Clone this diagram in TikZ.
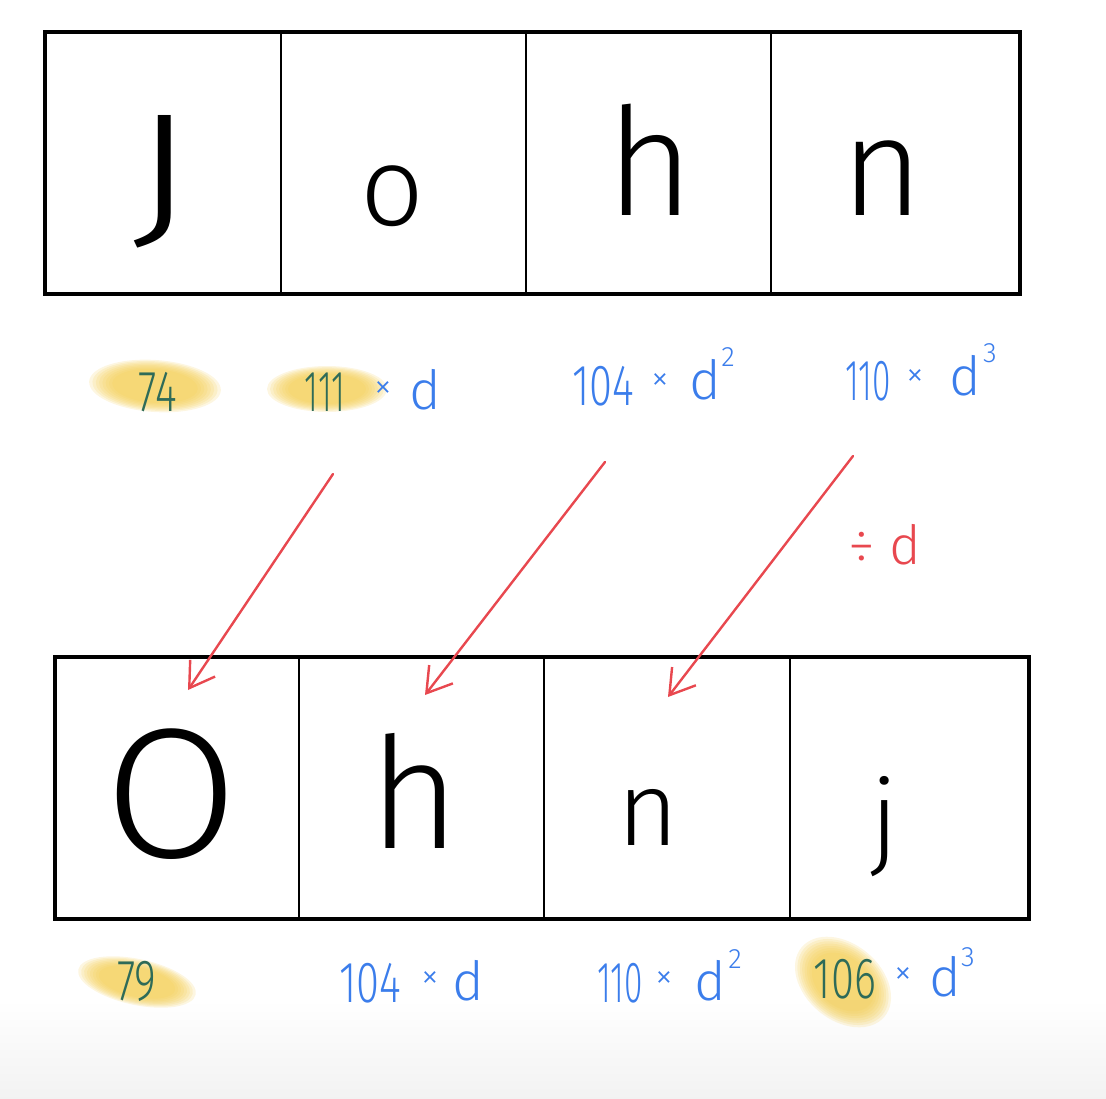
\documentclass[tikz,border=0pt]{standalone}
\usepackage{fontspec}
\setmainfont{Noto Sans}
\newfontfamily\thinfont{Fira Sans Light}
\usetikzlibrary{arrows.meta,shapes.geometric}
\definecolor{penblue}{HTML}{3B7DEB}
\definecolor{penred}{HTML}{E8484F}
\definecolor{hiyel}{HTML}{F3CC4E}
\definecolor{hitext}{HTML}{2E6B58}
\newcommand{\fsz}[1]{\fontsize{#1}{#1}\selectfont}
\tikzset{
  cell/.style={draw=black, line width=2pt, minimum height=260pt, inner sep=0pt, anchor=north west},
  frame/.style={draw=black, line width=4.5pt},
  letter/.style={anchor=base, inner sep=0pt, text=black},
  lab/.style={anchor=base, inner sep=0pt, text=penblue, font=\thinfont\fsz{58}, xscale=0.72},
  labhi/.style={lab, text=hitext},
  times/.style={anchor=center, inner sep=0pt, text=penblue, font=\thinfont\fsz{36}},
  dd/.style={anchor=base, inner sep=0pt, text=penblue, font=\thinfont\fsz{54}},
  sup/.style={anchor=base, inner sep=0pt, text=penblue, font=\thinfont\fsz{28}},
  hl/.style={fill=hiyel, opacity=0.17},
  redarrow/.style={draw=penred, line width=2.4pt, line cap=round, -{Straight Barb[length=24pt,width=30pt,line width=2.4pt]}},
}
\begin{document}
\begin{tikzpicture}[x=1pt,y=-1pt]
\useasboundingbox (0,0) rectangle (1106,1098);
\shade[top color=white, bottom color=black!5] (0,1000) rectangle (1106,1098);

% highlights
\foreach \s in {1.0,0.95,0.9,0.85,0.8,0.75,0.7,0.65}{
  \fill[hl, rotate around={-4:(155,386)}] (155,386) ellipse ({66*\s} and {26*\s});
  \fill[hl] (327,389) ellipse ({60*\s} and {23*\s});
  \fill[hl, rotate around={-12:(137,982)}] (137,982) ellipse ({60*\s} and {23*\s});
  \fill[hl, rotate around={-40:(843,982)}] (843,982) ellipse ({54*\s} and {38*\s});
}

% top row cells
\node[cell, minimum width=235pt] (t1) at (45,32) {};
\node[cell, minimum width=245pt] (t2) at (280,32) {};
\node[cell, minimum width=245pt] (t3) at (525,32) {};
\node[cell, minimum width=248pt] (t4) at (770,32) {};
\draw[frame] (t1.north west) rectangle (t4.south east);

% bottom row cells
\node[cell, minimum width=243pt] (b1) at (55,657) {};
\node[cell, minimum width=245pt] (b2) at (298,657) {};
\node[cell, minimum width=246pt] (b3) at (543,657) {};
\node[cell, minimum width=238pt] (b4) at (789,657) {};
\draw[frame] (b1.north west) rectangle (b4.south east);

% letters top
\node[letter, font=\thinfont\fsz{165}, xscale=1.3] (lJ) at (163,228) {J};
\node[letter, font=\thinfont\fsz{112}] (lo) at (392,225) {o};
\node[letter, font=\thinfont\fsz{150}] (lh) at (650,215) {h};
\node[letter, font=\thinfont\fsz{140}] (ln) at (882,215) {n};
% letters bottom
\node[letter, font=\thinfont\fsz{185}, xscale=1.05] (lO) at (172,857) {O};
\node[letter, font=\thinfont\fsz{155}] (lh2) at (415,848) {h};
\node[letter, font=\thinfont\fsz{105}] (ln2) at (648,845) {n};
\node[letter, font=\thinfont\fsz{105}] (lj) at (885,855) {j};

% top labels
\node[labhi] (n74) at (158,411) {74};
\node[labhi, xscale=0.8] (n111) at (325,411) {111};
\node[times] (x1) at (383,390) {×};
\node[dd] (d1) at (425,409) {d};

\node[lab] (n104) at (603,405) {104};
\node[times] (x2) at (660,382) {×};
\node[dd] (d2) at (705,399) {d};
\node[sup] (s2) at (728,366) {2};

\node[lab, xscale=0.8] (n110) at (868,400) {110};
\node[times] (x3) at (915,378) {×};
\node[dd] (d3) at (965,395) {d};
\node[sup] (s3) at (990,362) {3};

% bottom labels
\node[labhi] (n79) at (137,1000) {79};
\node[lab] (n104b) at (370,1002) {104};
\node[times] (x4) at (430,980) {×};
\node[dd] (d4) at (468,1000) {d};

\node[lab, xscale=0.8] (n110b) at (620,1002) {110};
\node[times] (x5) at (664,980) {×};
\node[dd] (d5) at (710,1000) {d};
\node[sup] (s5) at (735,968) {2};

\node[labhi] (n106) at (845,998) {106};
\node[times] (x6) at (903,976) {×};
\node[dd] (d6) at (945,996) {d};
\node[sup] (s6) at (968,966) {3};

% divide label
\node[anchor=center, inner sep=0pt, text=penred, font=\thinfont\fsz{54}] (div) at (885,545) {÷\hspace{14pt}d};

% arrows
\coordinate (a1s) at (333,474);
\coordinate (a1e) at (188,690);
\coordinate (a2s) at (605,462);
\coordinate (a2e) at (425,695);
\coordinate (a3s) at (853,456);
\coordinate (a3e) at (668,697);
\draw[redarrow] (a1s) -- (a1e);
\draw[redarrow] (a2s) -- (a2e);
\draw[redarrow] (a3s) -- (a3e);
\end{tikzpicture}
\end{document}
